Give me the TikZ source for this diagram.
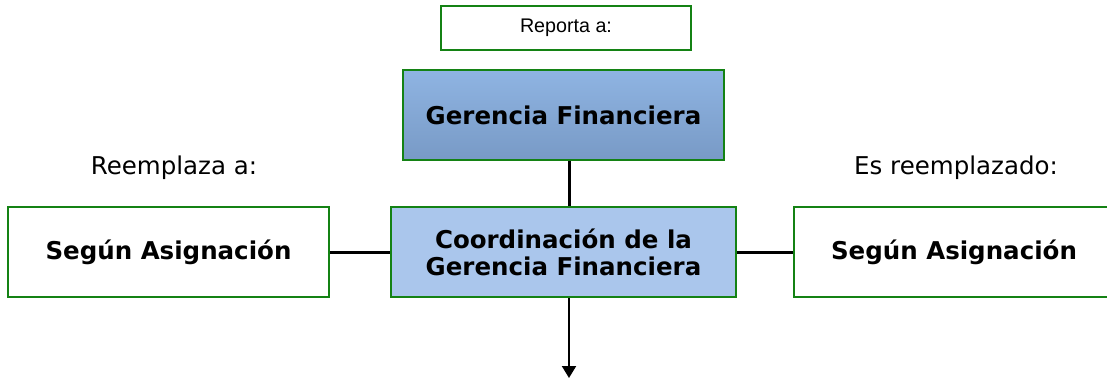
\documentclass[tikz,border=0pt]{standalone}
\usepackage{fontspec}
\setmainfont{DejaVu Sans}
\newfontfamily\arialfont{Liberation Sans}
\usetikzlibrary{arrows.meta}
\definecolor{boxgreen}{RGB}{20,130,20}
\definecolor{gtop}{RGB}{143,180,226}
\definecolor{gbot}{RGB}{120,154,198}
\definecolor{coordblue}{RGB}{170,198,236}
\tikzset{
	box/.style={draw=boxgreen, line width=2pt, inner sep=0pt, align=center, font=\fontsize{24.5}{27}\selectfont\bfseries},
	conn/.style={line width=3pt, black}
}

\begin{document}
\begin{tikzpicture}[x=1pt, y=-1pt]
			%%%%% START %%%%%
			
			\useasboundingbox (0, 0) rectangle (1107, 379);
			
			\node[box, minimum width=250pt, minimum height=44pt, font=\arialfont\fontsize{19.7}{22}\selectfont] (reporta) at (566, 28) {Reporta a:};
			
			\node[box, minimum width=321pt, minimum height=90pt, top color=gtop, bottom color=gbot] (gerencia) at (563.5, 115) {Gerencia Financiera};
			
			\node[box, minimum width=345pt, minimum height=90pt, fill=coordblue] (coord) at (563.5, 252) {Coordinación de la\\Gerencia Financiera};
			
			\node[box, minimum width=321pt, minimum height=90pt] (reemplaza) at (168.5, 252) {Según Asignación};
			\node[box, minimum width=320pt, minimum height=90pt] (reemplazado) at (954, 252) {Según Asignación};
			
			\node[font=\fontsize{24.5}{27}\selectfont] (reemplazaLbl) at (174, 168) {Reemplaza a:};
			\node[font=\fontsize{24.5}{27}\selectfont] (reemplazadoLbl) at (956, 168) {Es reemplazado:};
			
			\coordinate (abajo) at (569, 378);
			
			\draw[conn] ([xshift=5.5pt]gerencia.south) -- ([xshift=5.5pt]coord.north);
			\draw[conn] (reemplaza.east) -- (coord.west);
			\draw[conn] (coord.east) -- (reemplazado.west);
			\draw[line width=2pt, -{Triangle[width=14pt, length=12pt]}] ([xshift=5.5pt]coord.south) -- (abajo);
			
			%%%%% END %%%%%
		\end{tikzpicture}
\end{document}
